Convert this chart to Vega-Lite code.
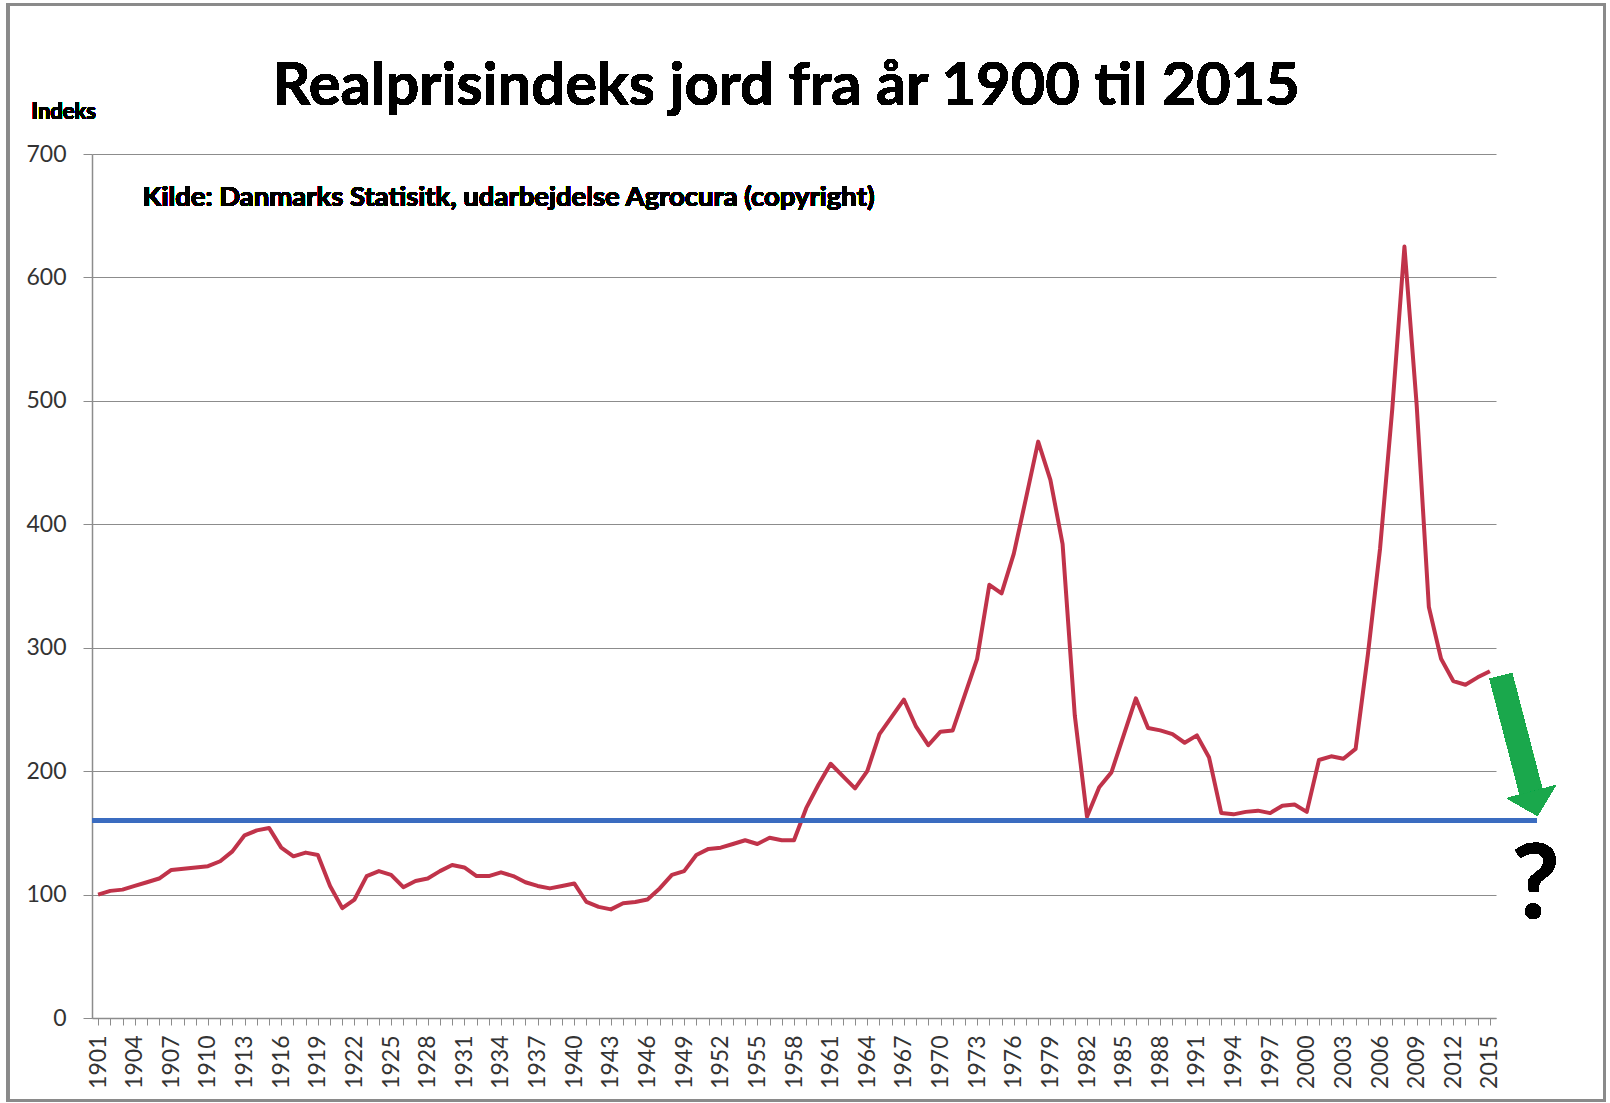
{
  "$schema": "https://vega.github.io/schema/vega-lite/v6.json",
  "autosize": "none",
  "width": 1404,
  "height": 864,
  "padding": {"left": 92, "top": 154, "right": 114, "bottom": 85},
  "background": "white",
  "config": {
    "view": {"stroke": null},
    "font": "Lato"
  },
  "data": {
    "values": [
      {"year": 1901, "index": 100}, {"year": 1902, "index": 103}, {"year": 1903, "index": 104},
      {"year": 1904, "index": 107}, {"year": 1905, "index": 110}, {"year": 1906, "index": 113},
      {"year": 1907, "index": 120}, {"year": 1908, "index": 121}, {"year": 1909, "index": 122},
      {"year": 1910, "index": 123}, {"year": 1911, "index": 127}, {"year": 1912, "index": 135},
      {"year": 1913, "index": 148}, {"year": 1914, "index": 152}, {"year": 1915, "index": 154},
      {"year": 1916, "index": 138}, {"year": 1917, "index": 131}, {"year": 1918, "index": 134},
      {"year": 1919, "index": 132}, {"year": 1920, "index": 107}, {"year": 1921, "index": 89},
      {"year": 1922, "index": 96}, {"year": 1923, "index": 115}, {"year": 1924, "index": 119},
      {"year": 1925, "index": 116}, {"year": 1926, "index": 106}, {"year": 1927, "index": 111},
      {"year": 1928, "index": 113}, {"year": 1929, "index": 119}, {"year": 1930, "index": 124},
      {"year": 1931, "index": 122}, {"year": 1932, "index": 115}, {"year": 1933, "index": 115},
      {"year": 1934, "index": 118}, {"year": 1935, "index": 115}, {"year": 1936, "index": 110},
      {"year": 1937, "index": 107}, {"year": 1938, "index": 105}, {"year": 1939, "index": 107},
      {"year": 1940, "index": 109}, {"year": 1941, "index": 94}, {"year": 1942, "index": 90},
      {"year": 1943, "index": 88}, {"year": 1944, "index": 93}, {"year": 1945, "index": 94},
      {"year": 1946, "index": 96}, {"year": 1947, "index": 105}, {"year": 1948, "index": 116},
      {"year": 1949, "index": 119}, {"year": 1950, "index": 132}, {"year": 1951, "index": 137},
      {"year": 1952, "index": 138}, {"year": 1953, "index": 141}, {"year": 1954, "index": 144},
      {"year": 1955, "index": 141}, {"year": 1956, "index": 146}, {"year": 1957, "index": 144},
      {"year": 1958, "index": 144}, {"year": 1959, "index": 170}, {"year": 1960, "index": 189},
      {"year": 1961, "index": 206}, {"year": 1962, "index": 196}, {"year": 1963, "index": 186},
      {"year": 1964, "index": 200}, {"year": 1965, "index": 230}, {"year": 1966, "index": 244},
      {"year": 1967, "index": 258}, {"year": 1968, "index": 236}, {"year": 1969, "index": 221},
      {"year": 1970, "index": 232}, {"year": 1971, "index": 233}, {"year": 1972, "index": 262},
      {"year": 1973, "index": 291}, {"year": 1974, "index": 351}, {"year": 1975, "index": 344},
      {"year": 1976, "index": 376}, {"year": 1977, "index": 421}, {"year": 1978, "index": 467},
      {"year": 1979, "index": 436}, {"year": 1980, "index": 384}, {"year": 1981, "index": 245},
      {"year": 1982, "index": 163}, {"year": 1983, "index": 187}, {"year": 1984, "index": 199},
      {"year": 1985, "index": 229}, {"year": 1986, "index": 259}, {"year": 1987, "index": 235},
      {"year": 1988, "index": 233}, {"year": 1989, "index": 230}, {"year": 1990, "index": 223},
      {"year": 1991, "index": 229}, {"year": 1992, "index": 211}, {"year": 1993, "index": 166},
      {"year": 1994, "index": 165}, {"year": 1995, "index": 167}, {"year": 1996, "index": 168},
      {"year": 1997, "index": 166}, {"year": 1998, "index": 172}, {"year": 1999, "index": 173},
      {"year": 2000, "index": 167}, {"year": 2001, "index": 209}, {"year": 2002, "index": 212},
      {"year": 2003, "index": 210}, {"year": 2004, "index": 218}, {"year": 2005, "index": 294},
      {"year": 2006, "index": 380}, {"year": 2007, "index": 493}, {"year": 2008, "index": 625},
      {"year": 2009, "index": 497}, {"year": 2010, "index": 333}, {"year": 2011, "index": 291},
      {"year": 2012, "index": 273}, {"year": 2013, "index": 270}, {"year": 2014, "index": 276},
      {"year": 2015, "index": 281}
    ]
  },
  "layer": [
    {
      "mark": {"type": "line", "color": "#C0334A", "strokeWidth": 4, "strokeJoin": "round"},
      "encoding": {
        "x": {
          "field": "year",
          "type": "quantitative",
          "scale": {"domain": [1900.5, 2015.5], "nice": false, "zero": false},
          "axis": {
            "title": null,
            "values": [1901,1902,1903,1904,1905,1906,1907,1908,1909,1910,1911,1912,1913,1914,1915,1916,1917,1918,1919,1920,1921,1922,1923,1924,1925,1926,1927,1928,1929,1930,1931,1932,1933,1934,1935,1936,1937,1938,1939,1940,1941,1942,1943,1944,1945,1946,1947,1948,1949,1950,1951,1952,1953,1954,1955,1956,1957,1958,1959,1960,1961,1962,1963,1964,1965,1966,1967,1968,1969,1970,1971,1972,1973,1974,1975,1976,1977,1978,1979,1980,1981,1982,1983,1984,1985,1986,1987,1988,1989,1990,1991,1992,1993,1994,1995,1996,1997,1998,1999,2000,2001,2002,2003,2004,2005,2006,2007,2008,2009,2010,2011,2012,2013,2014,2015],
            "tickCount": 200,
            "format": "d",
            "labelExpr": "datum.value % 3 == 2 ? datum.label : ''",
            "labelAngle": -90,
            "labelAlign": "right",
            "labelBaseline": "middle",
            "labelFont": "Lato",
            "labelFontSize": 23,
            "labelColor": "#333333",
            "labelPadding": 10,
            "labelOverlap": false,
            "labelFlush": false,
            "tickSize": 7,
            "tickColor": "#8c8c8c",
            "domainColor": "#8c8c8c",
            "domainWidth": 1.5,
            "grid": false
          }
        },
        "y": {
          "field": "index",
          "type": "quantitative",
          "scale": {"domain": [0, 700], "nice": false},
          "axis": {
            "title": null,
            "values": [0, 100, 200, 300, 400, 500, 600, 700],
            "labelFont": "Lato",
            "labelFontSize": 23,
            "labelColor": "#333333",
            "labelPadding": 17,
            "tickSize": 9,
            "tickColor": "#8c8c8c",
            "domainColor": "#8c8c8c",
            "domainWidth": 1.5,
            "grid": true,
            "gridColor": "#8c8c8c",
            "gridWidth": 1.2
          }
        }
      }
    },
    {
      "mark": {"type": "rect", "fill": "white", "fillOpacity": 0, "stroke": "#8a8a8a", "strokeWidth": 2.5, "clip": false},
      "encoding": {
        "x": {"datum": 1893.6, "type": "quantitative"},
        "x2": {"datum": 2024.4},
        "y": {"datum": 821, "type": "quantitative"},
        "y2": {"datum": -67}
      }
    },
    {
      "mark": {"type": "rule", "color": "#3B6CC0", "strokeWidth": 4},
      "encoding": {
        "x": {"datum": 1900.5, "type": "quantitative"},
        "x2": {"datum": 2018.8},
        "y": {"datum": 160, "type": "quantitative"}
      }
    },
    {
      "mark": {"type": "rule", "color": "#1AA84C", "strokeWidth": 23, "strokeCap": "butt"},
      "encoding": {
        "x": {"datum": 2015.9, "type": "quantitative"},
        "y": {"datum": 277, "type": "quantitative"},
        "x2": {"datum": 2018.4},
        "y2": {"datum": 182}
      }
    },
    {
      "mark": {"type": "point", "shape": "M-1,-0.49L1,-0.49L0,0.49Z", "filled": true, "color": "#1AA84C", "opacity": 1, "size": 2500, "angle": 345.3},
      "encoding": {
        "x": {"datum": 2018.64, "type": "quantitative"},
        "y": {"datum": 173.6, "type": "quantitative"}
      }
    },
    {
      "mark": {"type": "text", "text": "?", "font": "Lato", "fontSize": 104, "fontWeight": "bold", "color": "#000000", "align": "center", "baseline": "alphabetic"},
      "encoding": {
        "x": {"datum": 2018.75, "type": "quantitative"},
        "y": {"datum": 80.7, "type": "quantitative"}
      }
    },
    {
      "mark": {"type": "text", "text": "Realprisindeks jord fra år 1900 til 2015", "font": "Lato", "fontSize": 59.5, "fontWeight": "bold", "color": "#000000", "align": "center", "baseline": "alphabetic"},
      "encoding": {
        "x": {"datum": 1957.35, "type": "quantitative"},
        "y": {"datum": 739.3, "type": "quantitative"}
      }
    },
    {
      "mark": {"type": "text", "text": "Kilde: Danmarks Statisitk, udarbejdelse Agrocura (copyright)", "font": "Lato", "fontSize": 27.5, "fontWeight": "bold", "color": "#000000", "align": "left", "baseline": "alphabetic"},
      "encoding": {
        "x": {"datum": 1904.64, "type": "quantitative"},
        "y": {"datum": 658, "type": "quantitative"}
      }
    },
    {
      "mark": {"type": "text", "text": "Indeks", "font": "Lato", "fontSize": 22, "fontWeight": "bold", "color": "#000000", "align": "left", "baseline": "alphabetic"},
      "encoding": {
        "x": {"datum": 1895.55, "type": "quantitative"},
        "y": {"datum": 728.7, "type": "quantitative"}
      }
    }
  ]
}
